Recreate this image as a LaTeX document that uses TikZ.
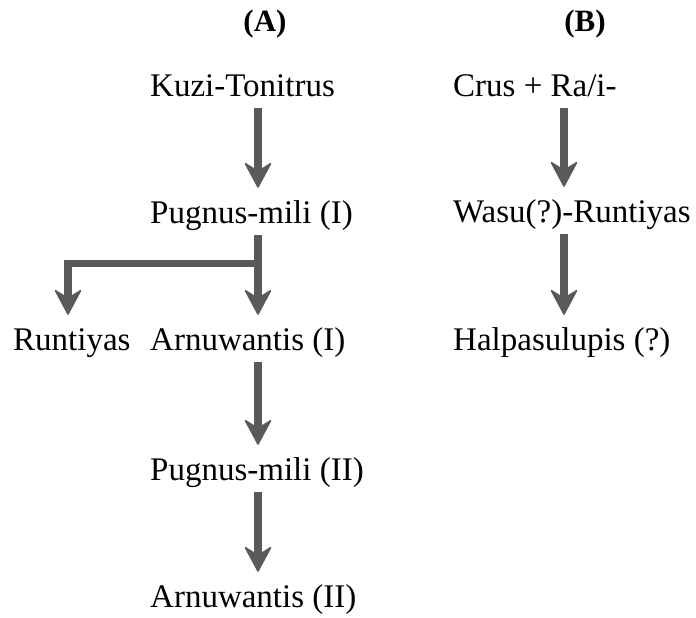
\documentclass[tikz,border=0pt]{standalone}
\usepackage{fontspec}
\setmainfont{Liberation Serif}
\usetikzlibrary{arrows.meta}
\definecolor{arrgray}{HTML}{5A5A5A}
\tikzset{
  lbl/.style={anchor=base west, inner sep=0pt, text height=23pt, text depth=7pt, font=\fontsize{33}{36}\selectfont},
  hdr/.style={anchor=base, inner sep=0pt, font=\fontsize{31}{34}\selectfont\bfseries},
  conn/.style={draw=arrgray, line width=7.5pt},
  arr/.style={conn, -{Stealth[length=27pt,width=29pt,inset=9pt,line width=1.5pt,round]}, shorten <=5pt, shorten >=12pt},
}
\begin{document}
\begin{tikzpicture}[x=1pt,y=-1pt]
\useasboundingbox (0,0) rectangle (696,618);
% column coordinates
\coordinate (colA) at (258,0);
\coordinate (colL) at (68,0);
\coordinate (colR) at (564,0);
\coordinate (barEnd) at (258,263.5);
\coordinate (barCorner) at (68,263.5);
% headers
\node[hdr] (hA) at (265,32) {(A)};
\node[hdr] (hB) at (585,32) {(B)};
% column A
\node[lbl] (kuzi) at (150,96) {Kuzi-Tonitrus};
\node[lbl] (pug1) at (150,223) {Pugnus-mili (I)};
\node[lbl] (runt) at (13,350) {Runtiyas};
\node[lbl] (arn1) at (150,350) {Arnuwantis (I)};
\node[lbl] (pug2) at (150,480) {Pugnus-mili (II)};
\node[lbl] (arn2) at (150,607) {Arnuwantis (II)};
% column B
\node[lbl] (crus) at (453,96) {Crus + Ra/i-};
\node[lbl] (wasu) at (453,222) {Wasu(?)-Runtiyas};
\node[lbl] (halp) at (453,350) {Halpasulupis (?)};
% connectors A
\draw[arr] (kuzi.south -| colA) -- (pug1.north -| colA);
\draw[arr] (pug1.south -| colA) -- (arn1.north -| colA);
\draw[conn, line cap=rect] (barEnd) -- (barCorner);
\draw[arr, shorten <=0pt] (barCorner) -- (runt.north -| colL);
\draw[arr] (arn1.south -| colA) -- (pug2.north -| colA);
\draw[arr] (pug2.south -| colA) -- (arn2.north -| colA);
% connectors B
\draw[arr] (crus.south -| colR) -- (wasu.north -| colR);
\draw[arr] (wasu.south -| colR) -- (halp.north -| colR);
\end{tikzpicture}
\end{document}
